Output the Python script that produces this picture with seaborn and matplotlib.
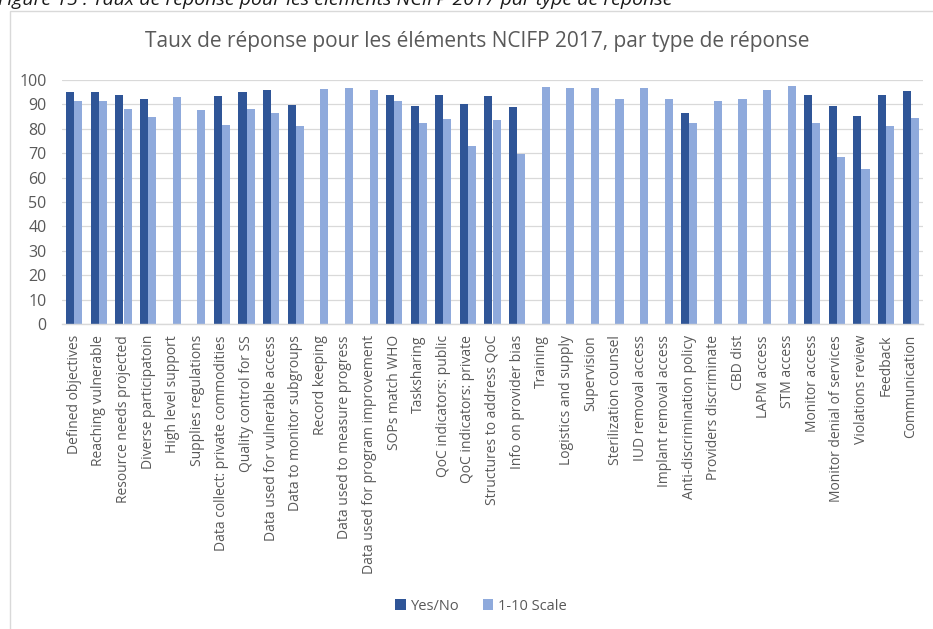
import numpy as np
import pandas as pd
import matplotlib
matplotlib.use("Agg")
import matplotlib.pyplot as plt
import seaborn as sns
from matplotlib.patches import Rectangle

categories = [
    "Defined objectives", "Reaching vulnerable", "Resource needs projected",
    "Diverse participatoin", "High level support", "Supplies regulations",
    "Data collect: private commodities", "Quality control for SS",
    "Data used for vulnerable access", "Data to monitor subgroups",
    "Record keeping", "Data used to measure progress",
    "Data used for program improvement", "SOPs match WHO", "Tasksharing",
    "QoC indicators: public", "QoC indicators: private",
    "Structures to address QoC", "Info on provider bias", "Training",
    "Logistics and supply", "Supervision", "Sterilization counsel",
    "IUD removal access", "Implant removal access", "Anti-discrimination policy",
    "Providers discriminate", "CBD dist", "LAPM access", "STM access",
    "Monitor access", "Monitor denial of services", "Violations review",
    "Feedback", "Communication",
]

yes_no = [
    95.0, 95.0, 93.7, 92.1, None, None, 93.4, 95.0, 96.0, 89.6,
    None, None, None, 94.0, 89.5, 94.0, 90.2, 93.6, 88.9, None,
    None, None, None, None, None, 86.5, None, None, None, None,
    93.7, 89.3, 85.2, 94.0, 95.5,
]

scale_1_10 = [
    91.4, 91.5, 88.0, 85.0, 93.0, 87.7, 81.7, 88.3, 86.6, 81.3,
    96.4, 96.6, 95.9, 91.3, 82.5, 84.0, 73.1, 83.5, 69.5, 97.1,
    96.6, 96.8, 92.1, 96.6, 92.2, 82.4, 91.3, 92.2, 95.8, 97.5,
    82.3, 68.4, 63.5, 81.1, 84.3,
]

series_names = ["Yes/No", "1-10 Scale"]
y_ticks = list(range(0, 101, 10))

title = "Taux de réponse pour les éléments NCIFP 2017, par type de réponse"
caption = "Figure 15 : Taux de réponse pour les éléments NCIFP 2017 par type de réponse"

sns.set_theme(style="white")
plt.rcParams["font.family"] = ["Open Sans", "DejaVu Sans"]

rows = []
for c, a, b in zip(categories, yes_no, scale_1_10):
    if a is not None:
        rows.append({"cat": c, "series": series_names[0], "val": a})
    if b is not None:
        rows.append({"cat": c, "series": series_names[1], "val": b})
df = pd.DataFrame(rows)

TXT = "#595959"
GRID = "#D9D9D9"

fig = plt.figure(figsize=(9.33, 6.29), dpi=100)
ax = fig.add_axes([62 / 933, 1 - 324 / 629, (923 - 62) / 933, 244 / 629])

sns.barplot(data=df, x="cat", y="val", hue="series", hue_order=series_names,
            order=categories, palette=["#2F5597", "#8FAADC"], width=0.66,
            errorbar=None, saturation=1, linewidth=0, ax=ax)

ax.set_ylim(0, 100)
ax.set_xlim(-0.5, len(categories) - 0.5)
ax.set_yticks(y_ticks)
ax.set_axisbelow(True)
ax.yaxis.grid(True, color=GRID, lw=0.9)
ax.xaxis.grid(False)
for s in ["top", "right", "left"]:
    ax.spines[s].set_visible(False)
ax.spines["bottom"].set_color(GRID)
ax.spines["bottom"].set_linewidth(1.0)
ax.set_xlabel("")
ax.set_ylabel("")
ax.tick_params(axis="both", length=0, colors=TXT)
ax.tick_params(axis="y", labelsize=11.5, pad=11)
ax.tick_params(axis="x", labelsize=10, pad=8)
for lab in ax.get_xticklabels():
    lab.set_rotation(90)
    lab.set_ha("center")
    lab.set_va("top")

handles, labels = ax.get_legend_handles_labels()
if ax.legend_ is not None:
    ax.legend_.remove()
fig.legend(handles, labels, loc="center", bbox_to_anchor=(481 / 933, 1 - 606 / 629),
           ncol=2, frameon=False, handlelength=0.7, handleheight=0.7,
           columnspacing=1.6, handletextpad=0.35, fontsize=10.5, labelcolor=TXT)

fig.text(477 / 933, 1 - 41 / 629, title, ha="center", va="center",
         fontsize=15, color=TXT)
fig.text(-2 / 933, 1 - 5 / 629, caption, ha="left", va="baseline",
         fontsize=14, style="italic", color="#1a1a1a")

fig.patches.append(Rectangle((10 / 933, -0.1), 1.2, (1 - 11 / 629) + 0.1,
                             transform=fig.transFigure, fill=False,
                             edgecolor=GRID, lw=1.0))

fig.savefig("out.png", dpi=100)
